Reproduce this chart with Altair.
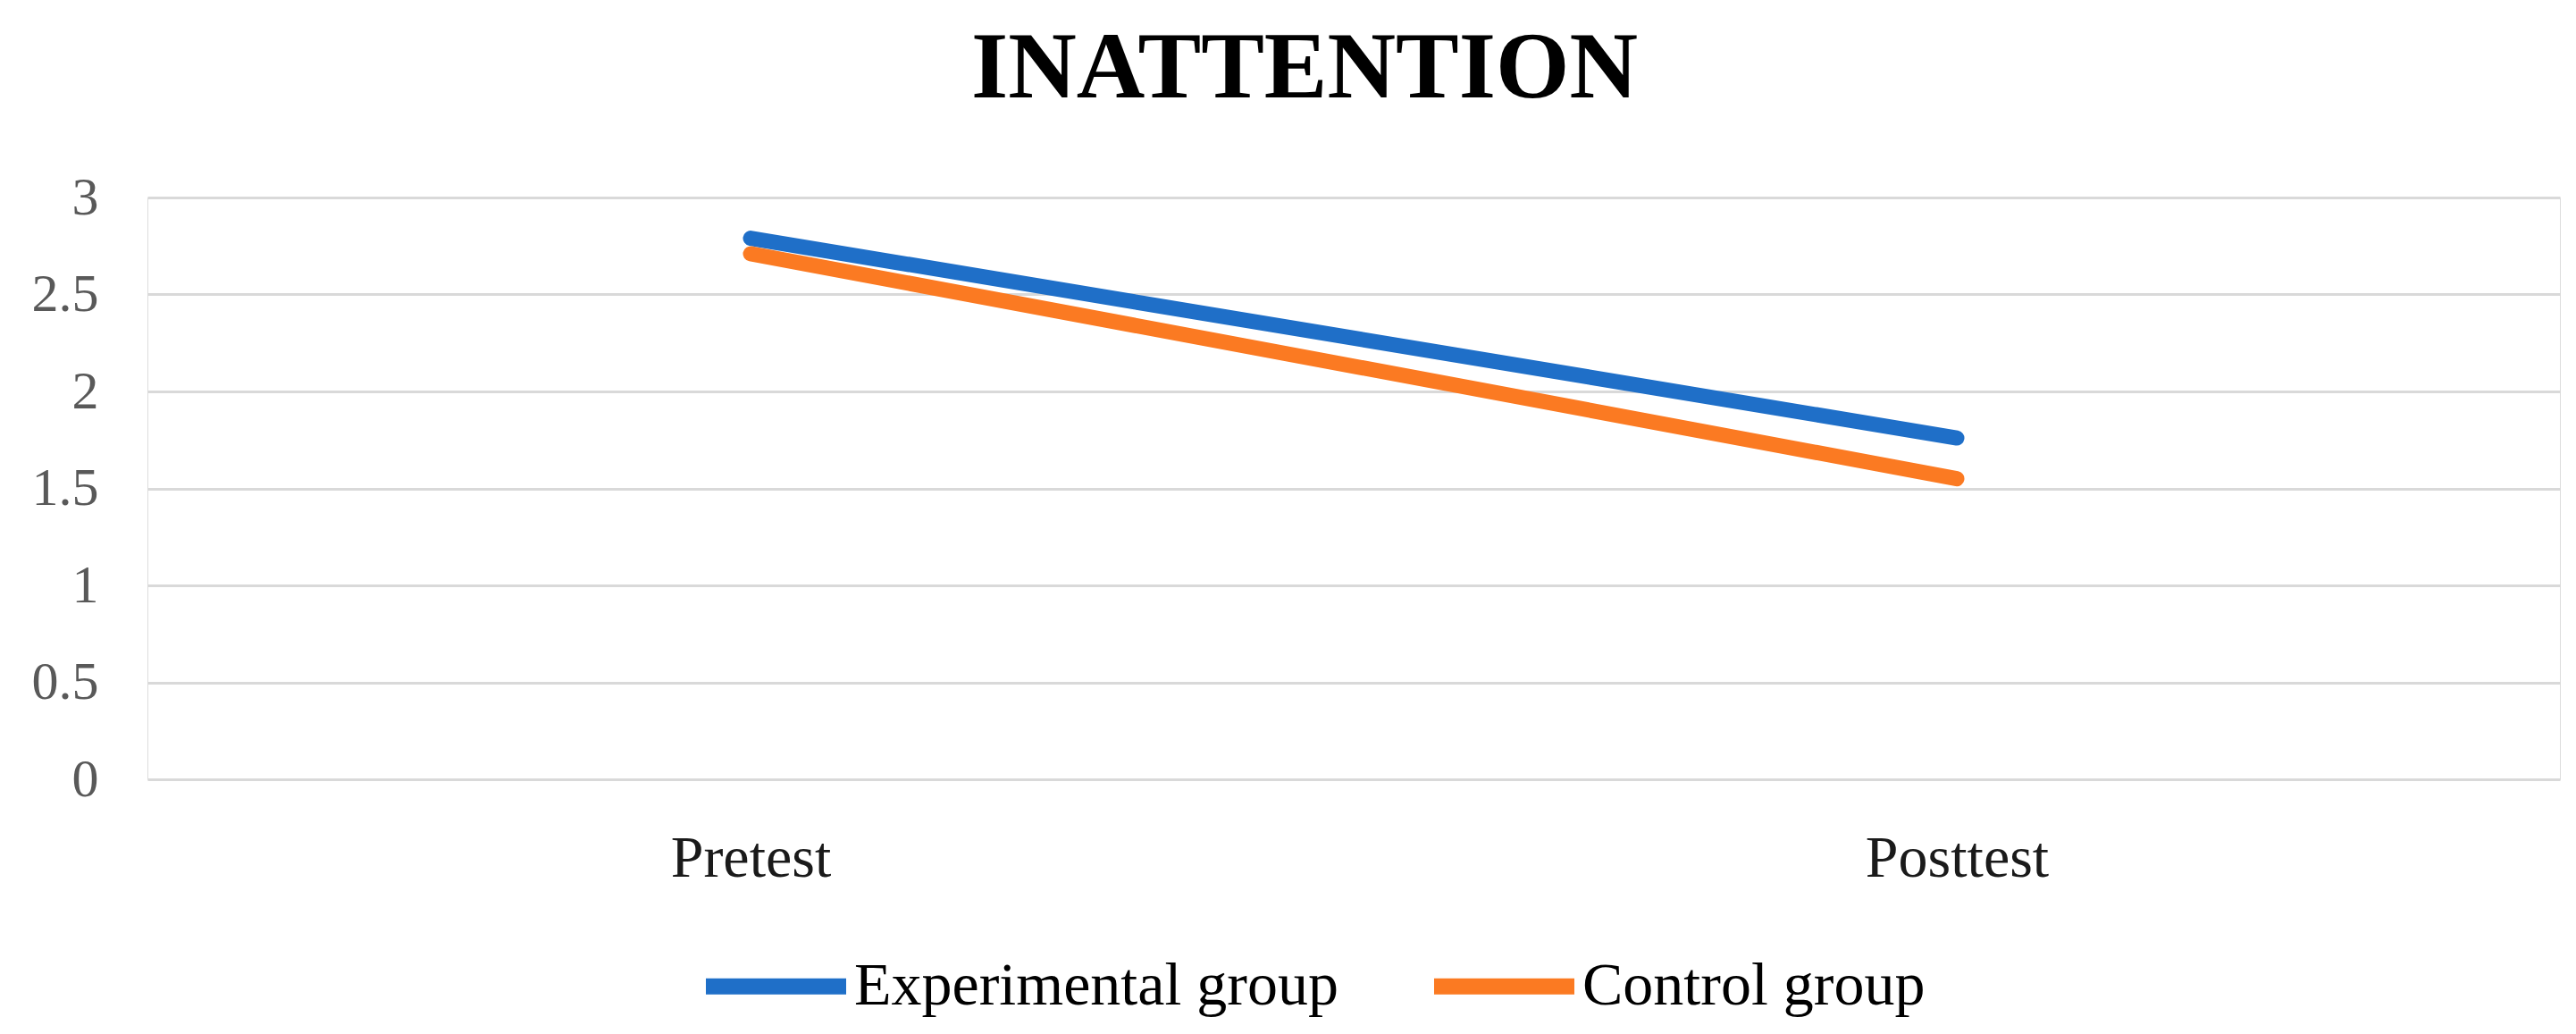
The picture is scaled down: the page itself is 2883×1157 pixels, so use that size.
import altair as alt
import pandas as pd

times = ["Pretest", "Posttest"]
groups = ["Experimental group", "Control group"]
experimental = [2.79, 1.76]
control = [2.71, 1.55]
colors = ["#1f6fc8", "#fb7a22"]
y_ticks = [0, 0.5, 1, 1.5, 2, 2.5, 3]

rows = []
for t, v in zip(times, experimental):
    rows.append({"Time": t, "Group": groups[0], "Score": v})
for t, v in zip(times, control):
    rows.append({"Time": t, "Group": groups[1], "Score": v})
df = pd.DataFrame(rows)

FONT = "Liberation Serif"

chart = (
    alt.Chart(df)
    .mark_line(strokeWidth=17, strokeCap="round")
    .encode(
        x=alt.X(
            "Time:N",
            sort=times,
            scale=alt.Scale(type="point", padding=0.5),
            axis=alt.Axis(
                title=None, labelAngle=0, labelFont=FONT, labelFontSize=66,
                labelColor="#1a1a1a", domain=False, ticks=False, tickSize=0,
                grid=False, labelPadding=56, labelLimit=2000,
            ),
        ),
        y=alt.Y(
            "Score:Q",
            scale=alt.Scale(domain=[0, 3], nice=False, zero=True),
            axis=alt.Axis(
                title=None, values=y_ticks, labelExpr="toString(datum.value)",
                labelFont=FONT, labelFontSize=60, labelColor="#595959",
                domain=False, ticks=False, tickSize=0, labelPadding=55,
                grid=True, gridColor="#d9d9d9", gridWidth=3,
            ),
        ),
        color=alt.Color(
            "Group:N",
            sort=groups,
            scale=alt.Scale(domain=groups, range=colors),
            legend=alt.Legend(
                title=None, orient="none", direction="horizontal",
                legendX=616, legendY=795,
                symbolType="stroke", symbolSize=24649, symbolStrokeWidth=18,
                labelFont=FONT, labelFontSize=68, labelColor="#000000",
                labelLimit=2000, labelOffset=0, columnPadding=71,
            ),
        ),
    )
    .properties(
        width=2700,
        height=651,
        autosize=alt.AutoSizeParams(type="none"),
        padding={"left": 157, "top": 213, "right": 10, "bottom": 277},
        title=alt.Title(
            "INATTENTION", font=FONT, fontSize=106, fontWeight="bold",
            color="#000000", anchor="middle", offset=60, dx=-55,
        ),
    )
    .configure_view(strokeWidth=0)
    .configure(background="#ffffff")
)

chart.save("out.html", embed_options={"renderer": "svg", "actions": False})
